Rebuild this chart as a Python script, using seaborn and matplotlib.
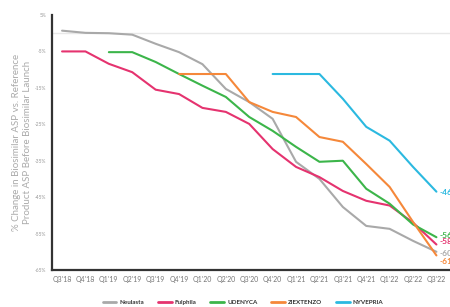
import pandas as pd
import seaborn as sns
import matplotlib.pyplot as plt

# Quarters on the x axis
quarters = ["Q3'18", "Q4'18", "Q1'19", "Q2'19", "Q3'19", "Q4'19", "Q1'20", "Q2'20", "Q3'20",
            "Q4'20", "Q1'21", "Q2'21", "Q3'21", "Q4'21", "Q1'22", "Q2'22", "Q3'22"]

# % change in biosimilar ASP vs. reference product ASP
neulasta = [0.7, 0.1, 0.0, -0.4, -2.9, -5.2, -8.5, -15.3, -18.9, -23.5, -35.3, -40.0, -47.7,
            -52.9, -53.7, -57.0, -60.0]
fulphila = [-5.0, -5.0, -8.4, -10.7, -15.5, -16.7, -20.5, -21.6, -24.9, -31.8, -36.7, -39.5,
            -43.3, -46.0, -47.3, -52.0, -58.0]
udenyca = [None, None, -5.2, -5.2, -7.9, -11.2, -14.4, -17.5, -23.0, -26.8, -31.2, -35.3,
           -35.0, -42.7, -46.8, -52.5, -56.0]
ziextenzo = [None, None, None, None, None, -11.2, -11.2, -11.2, -18.9, -21.6, -23.0, -28.5,
             -29.8, -35.9, -42.2, -51.8, -61.0]
nyvepria = [None, None, None, None, None, None, None, None, None, -11.2, -11.2, -11.2, -18.0,
            -25.7, -29.5, -36.7, -43.5]

series_names = ['Neulasta', 'Fulphila', 'UDENYCA', 'ZIEXTENZO', 'NYVEPRIA']
end_labels = ['-60%', '-58%', '-56%', '-61%', '-46%']
y_ticks = [5, -5, -15, -25, -35, -45, -55, -65]

colors = {'Neulasta': '#a9a9a9', 'Fulphila': '#e5336f', 'UDENYCA': '#3cb54a',
          'ZIEXTENZO': '#f5883a', 'NYVEPRIA': '#2bb9e0'}

# Build a long dataframe for seaborn
rows = []
for name, vals in zip(series_names, [neulasta, fulphila, udenyca, ziextenzo, nyvepria]):
    for i, v in enumerate(vals):
        if v is not None:
            rows.append({'Quarter': i, 'Change': v, 'Product': name})
df = pd.DataFrame(rows)

sns.set_style('white')
plt.rcParams['font.family'] = ['Lato', 'DejaVu Sans']

fig = plt.figure(figsize=(4.5, 3.07), dpi=100)
ax = fig.add_axes([52 / 450, 37 / 307, 398 / 450, 255 / 307])

ax.axhline(0, color='#e8e8e8', lw=1, zorder=0)
sns.lineplot(data=df, x='Quarter', y='Change', hue='Product', hue_order=series_names,
             palette=colors, linewidth=1.5, ax=ax, legend=True)

ax.set_xlim(-0.43, 16.58)
ax.set_ylim(-65, 5)
ax.set_xticks(range(len(quarters)))
ax.set_xticklabels(quarters, fontsize=5, color='#777777')
ax.set_yticks(y_ticks)
ax.set_yticklabels([f'{t}%' for t in y_ticks], fontsize=3.5, color='#999999')
ax.tick_params(axis='both', length=0, pad=4)
ax.set_xlabel('')
ax.set_ylabel('% Change in Biosimilar ASP vs. Reference\nProduct ASP Before Biosimilar Launch',
              fontsize=7, color='#aaaaaa', labelpad=2, linespacing=1.3)

for side in ['top', 'right']:
    ax.spines[side].set_visible(False)
for side in ['left', 'bottom']:
    ax.spines[side].set_color('#333333')
    ax.spines[side].set_linewidth(1.6)

# End-of-line value labels (spread vertically like the original)
label_y = [-60.6, -57.3, -55.5, -62.8, -43.6]
for name, txt, yy in zip(series_names, end_labels, label_y):
    ax.text(16.15, yy, txt, color=colors[name], fontsize=6, fontweight='bold',
            va='center', ha='left', clip_on=False)

leg = ax.legend(loc='upper center', bbox_to_anchor=(0.48, -0.095), ncol=5, frameon=False,
                fontsize=4.5, handlelength=2.2, handletextpad=0.5, columnspacing=2.2)
for t in leg.get_texts():
    t.set_fontweight('bold')
    t.set_color('#333333')
for h in leg.get_lines():
    h.set_linewidth(2)

fig.savefig('out.png', dpi=100)
